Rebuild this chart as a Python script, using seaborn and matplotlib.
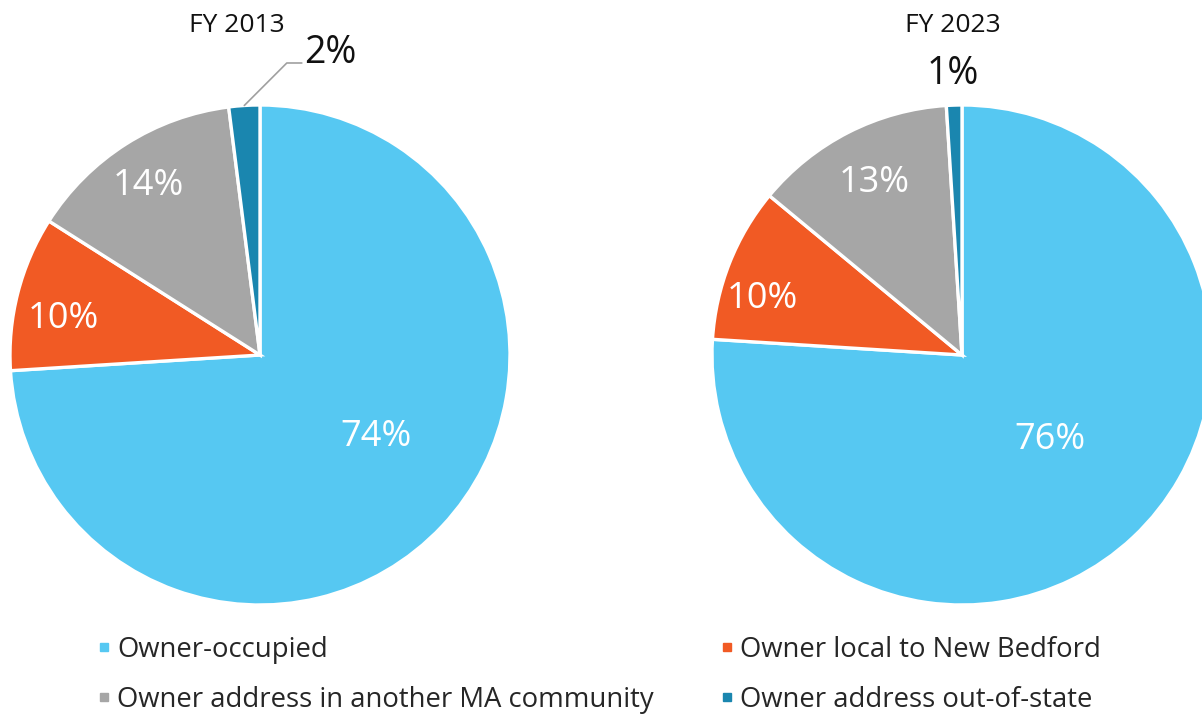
import numpy as np
import seaborn as sns
import matplotlib.pyplot as plt
from matplotlib.lines import Line2D

categories = [
    "Owner-occupied",
    "Owner local to New Bedford",
    "Owner address in another MA community",
    "Owner address out-of-state",
]
years = ["FY 2013", "FY 2023"]
shares_2013 = [74, 10, 14, 2]
shares_2023 = [76, 10, 13, 1]

colors = sns.color_palette(["#56C8F2", "#F15A24", "#A6A6A6", "#1A86AF"])

sns.set_theme(style="white")
plt.rcParams["font.family"] = ["Open Sans", "DejaVu Sans"]

fig = plt.figure(figsize=(12.02, 7.15), dpi=100)
W, H = 1202, 715
r_px = 250

def pie_axes(cx, cy):
    return fig.add_axes([(cx - r_px) / W, (H - cy - r_px) / H, 2 * r_px / W, 2 * r_px / H])

ax1 = pie_axes(260, 355)
ax2 = pie_axes(962, 355)

# label placement: (fraction of radius, angle nudge in degrees)
place_2013 = [(0.57, 8), (0.80, 4), (0.81, 1)]
place_2023 = [(0.49, 3), (0.83, 6), (0.77, 0)]

for ax, vals, place in [(ax1, shares_2013, place_2013), (ax2, shares_2023, place_2023)]:
    wedges, _ = ax.pie(vals, colors=colors, startangle=90, counterclock=False,
                       radius=1, wedgeprops=dict(edgecolor="white", linewidth=2.4))
    for w, v, (d, nudge) in zip(wedges[:3], vals[:3], place):
        a = np.deg2rad((w.theta1 + w.theta2) / 2 + nudge)
        ax.text(d * np.cos(a), d * np.sin(a), f"{v}%", color="white",
                ha="center", va="center", fontsize=26)
    ax.set_xlim(-1, 1)
    ax.set_ylim(-1, 1)
    ax.set_aspect("auto")
    ax.axis("off")

# small out-of-state slices: outside labels
w = ax1.patches[3]
a = np.deg2rad((w.theta1 + w.theta2) / 2)
x0, y0 = np.cos(a), np.sin(a)
ax1.plot([x0, x0 + 0.17, x0 + 0.23], [y0, y0 + 0.17, y0 + 0.17],
         color="#A0A0A0", lw=1.2, clip_on=False)
ax1.text(x0 + 0.24, y0 + 0.21, f"{shares_2013[3]}%", color="#111111",
         ha="left", va="center", fontsize=27, clip_on=False)

w = ax2.patches[3]
a = np.deg2rad((w.theta1 + w.theta2) / 2)
ax2.text(1.125 * np.cos(a), 1.125 * np.sin(a), f"{shares_2023[3]}%", color="#111111",
         ha="center", va="center", fontsize=27, clip_on=False)

fig.text(237 / W, 1 - 25 / H, years[0], ha="center", va="center", fontsize=19, color="#111111")
fig.text(953 / W, 1 - 25 / H, years[1], ha="center", va="center", fontsize=19, color="#111111")

handles = [Line2D([], [], marker="s", linestyle="none", markersize=6,
                  markerfacecolor=c, markeredgecolor=c) for c in colors]
order = [0, 2, 1, 3]
fig.legend([handles[i] for i in order], [categories[i] for i in order],
           ncol=2, loc="center left", bbox_to_anchor=(98 / W, 1 - 675 / H),
           frameon=False, fontsize=19.8, handlelength=0.4, handletextpad=0.3,
           columnspacing=2.45, labelspacing=0.8, borderaxespad=0, borderpad=0)

fig.savefig("out.png", dpi=100)
